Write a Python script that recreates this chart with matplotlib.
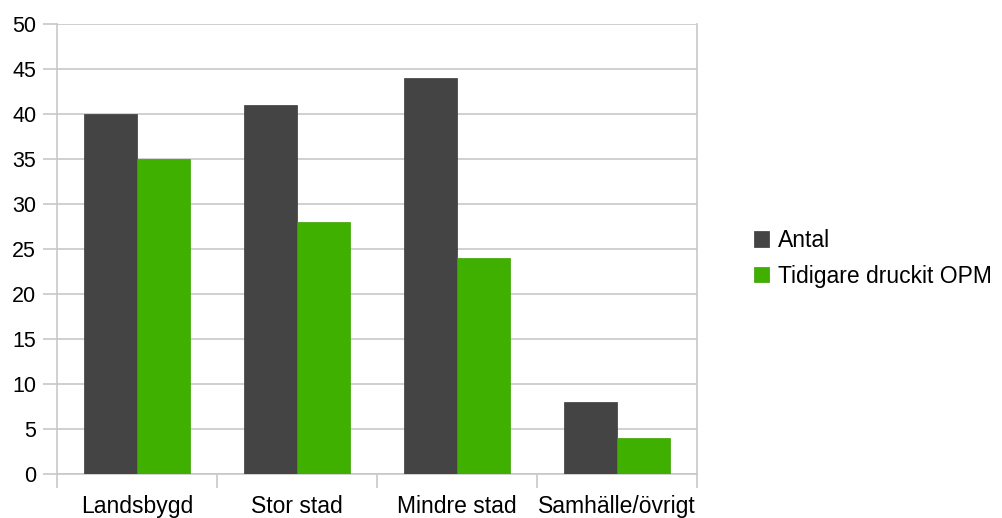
import matplotlib.pyplot as plt
import numpy as np

categories = ['Landsbygd', 'Stor stad', 'Mindre stad', 'Samhälle/övrigt']
antal = [40, 41, 44, 8]
tidigare = [35, 28, 24, 4]
series_names = ['Antal', 'Tidigare druckit OPM']
yticks = [0, 5, 10, 15, 20, 25, 30, 35, 40, 45, 50]

plt.rcParams['font.family'] = ['Liberation Sans', 'DejaVu Sans']
plt.rcParams['font.size'] = 16.5

dark = '#444444'
green = '#40b000'
grid = '#c8c8c8'

fig = plt.figure(figsize=(10.03, 5.18), dpi=100)
ax = fig.add_axes([57/1003, 44/518, 640/1003, 450.5/518])

x = np.arange(len(categories))
w = 0.334
b1 = ax.bar(x - w/2, antal, width=w, color=dark, edgecolor='#3a3a3a', linewidth=0.5, zorder=3)
b2 = ax.bar(x + w/2, tidigare, width=w, color=green, edgecolor='#3aa000', linewidth=0.5, zorder=3)

ax.set_xlim(-0.5, len(categories) - 0.5)
ax.set_ylim(0, 50)
ax.set_yticks(yticks)
ax.yaxis.grid(True, color=grid, linewidth=1.2, zorder=0)
ax.tick_params(axis='y', length=10, color=grid, width=1.2, pad=5, labelsize=15.5)

ax.set_xticks(x)
ax.set_xticklabels(categories)
ax.tick_params(axis='x', which='major', length=0, pad=15)
ax.set_xticks(np.arange(-0.5, len(categories)), minor=True)
ax.tick_params(axis='x', which='minor', length=10, color=grid, width=1.2)

for s in ax.spines.values():
    s.set_color(grid)
    s.set_linewidth(1.2)
ax.spines['top'].set_visible(False)

fig.legend([b1, b2], series_names, loc='upper left', bbox_to_anchor=(745/1003, 1 - 220/518),
           frameon=False, handlelength=0.65, handleheight=0.65, handletextpad=0.4,
           labelspacing=0.55, borderaxespad=0)

fig.savefig('out.png', dpi=100)
